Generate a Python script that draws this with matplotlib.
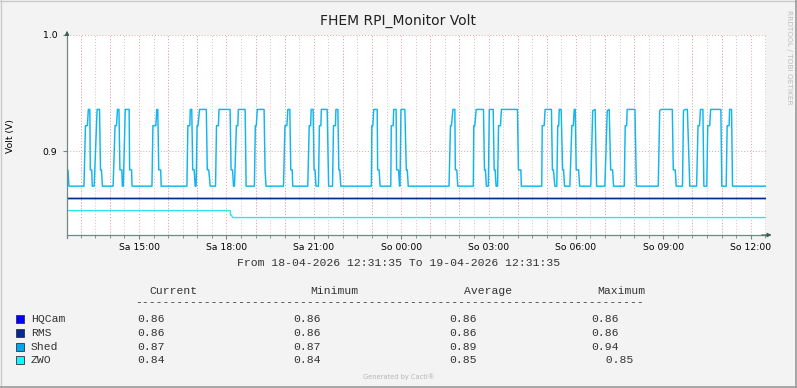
import matplotlib
matplotlib.use("Agg")
import numpy as np
import pandas as pd
import matplotlib.pyplot as plt
import matplotlib.dates as mdates
from matplotlib.ticker import FuncFormatter
from matplotlib.patches import Rectangle
from matplotlib.lines import Line2D

start = pd.Timestamp("2026-04-18 12:31:35")
end = pd.Timestamp("2026-04-19 12:31:35")

# Shed voltage, (minutes after start, volt)
shed = [
    (0, .884), (2, .884), (4, .870), (35, .870), (38, .922), (42, .922), (44, .936), (47, .936),
    (48, .884), (51, .884), (52, .870), (56, .870), (62, .936), (67, .936), (69, .884), (71, .884),
    (73, .870), (95, .870), (99, .922), (102, .922), (104, .936), (107, .936), (109, .884),
    (113, .884), (114, .870), (116, .870), (119, .922), (120, .936), (128, .936), (129, .884),
    (133, .884), (134, .870), (175, .870), (177, .922), (183, .922), (185, .936), (187, .936),
    (189, .884), (193, .884), (194, .870), (247, .870), (249, .922), (253, .922), (254, .936),
    (257, .936), (259, .884), (262, .884), (264, .870), (266, .870), (268, .922), (270, .922),
    (273, .936), (287, .936), (289, .884), (292, .884), (295, .870), (306, .870), (308, .922),
    (312, .922), (313, .936), (336, .936), (338, .884), (341, .884), (343, .870), (345, .870),
    (349, .922), (352, .922), (353, .936), (367, .936), (369, .870), (386, .870), (388, .922),
    (390, .922), (392, .936), (406, .936), (408, .884), (410, .870), (446, .870), (449, .922),
    (453, .922), (455, .936), (459, .936), (461, .884), (464, .884), (465, .870), (496, .870),
    (499, .922), (502, .922), (503, .936), (507, .936), (509, .884), (511, .884), (513, .870),
    (518, .870), (520, .922), (523, .922), (524, .936), (536, .936), (539, .870), (547, .870),
    (549, .922), (553, .922), (554, .936), (558, .936), (560, .884), (562, .884), (564, .870),
    (627, .870), (628, .922), (630, .922), (632, .936), (639, .936), (640, .884), (643, .884),
    (645, .870), (667, .870), (668, .922), (672, .922), (673, .936), (678, .936), (679, .884),
    (683, .884), (685, .870), (686, .870), (688, .936), (696, .936), (699, .884), (701, .884),
    (703, .870), (787, .870), (790, .922), (792, .922), (795, .936), (799, .936), (800, .884),
    (803, .884), (805, .870), (837, .870), (838, .922), (840, .922), (843, .936), (858, .936),
    (860, .884), (862, .884), (864, .870), (868, .870), (870, .936), (878, .936), (880, .884),
    (882, .884), (884, .870), (887, .870), (889, .922), (893, .922), (895, .936), (928, .936),
    (930, .884), (935, .884), (936, .870), (978, .870), (979, .922), (983, .922), (985, .936),
    (998, .936), (1000, .884), (1002, .884), (1005, .870), (1009, .870), (1011, .922),
    (1013, .922), (1014, .936), (1018, .936), (1021, .884), (1023, .884), (1025, .870),
    (1036, .870), (1040, .922), (1043, .922), (1045, .936), (1047, .936), (1049, .884),
    (1054, .884), (1056, .870), (1079, .870), (1083, .935), (1088, .936), (1091, .870),
    (1108, .870), (1113, .935), (1117, .936), (1120, .884), (1124, .884), (1126, .870),
    (1148, .870), (1150, .922), (1153, .922), (1154, .936), (1170, .936), (1173, .870),
    (1218, .870), (1221, .935), (1224, .936), (1247, .936), (1249, .884), (1253, .884),
    (1255, .870), (1268, .870), (1270, .935), (1274, .936), (1278, .936), (1283, .870),
    (1297, .870), (1300, .922), (1303, .922), (1305, .936), (1310, .936), (1312, .870),
    (1318, .870), (1320, .922), (1324, .922), (1326, .936), (1347, .936), (1349, .870),
    (1358, .870), (1360, .922), (1364, .922), (1365, .936), (1369, .936), (1371, .870),
    (1440, .870),
]
hqcam_min = [0, 1440]
hqcam_volt = [0.86, 0.86]
rms_min = [0, 1440]
rms_volt = [0.86, 0.86]
zwo_min = [0, 336, 337, 339, 341, 1440]
zwo_volt = [0.849, 0.849, 0.845, 0.845, 0.843, 0.843]

names = ["HQCam", "RMS", "Shed", "ZWO"]
colors = ["#0000FF", "#002A97", "#00A6EE", "#00FFFF"]
line_colors = ["#0000FF", "#002A8F", "#11B5F0", "#30E5E8"]
current = ["0.86", "0.86", "0.87", "0.84"]
minimum = ["0.86", "0.86", "0.87", "0.84"]
average = ["0.86", "0.86", "0.89", "0.85"]
maximum = ["0.86", "0.86", "0.94", "  0.85"]

weekdays = ["Mo", "Di", "Mi", "Do", "Fr", "Sa", "So"]
W, H = 797, 388
axis_col = "#6E8A84"
mono = "Liberation Mono"
mono_size = 8.2


def to_time(minutes):
    return start + pd.to_timedelta(minutes, unit="min")


fig = plt.figure(figsize=(W / 100, H / 100), dpi=100, facecolor="#F3F3F3")
ax = fig.add_axes([67 / W, 1 - 235 / H, 699 / W, 200 / H])
ax.set_facecolor("white")

shed_min = [p[0] for p in shed]
shed_volt = [p[1] for p in shed]
ax.plot(to_time(hqcam_min), hqcam_volt, color=line_colors[0], lw=1.0)
ax.plot(to_time(rms_min), rms_volt, color=line_colors[1], lw=1.0)
ax.plot(to_time(shed_min), shed_volt, color=line_colors[2], lw=1.05)
ax.plot(to_time(zwo_min), zwo_volt, color=line_colors[3], lw=1.0)

ax.set_xlim(start, end)
ax.set_ylim(0.828, 1.0)
ax.set_yticks([0.9, 1.0])
ax.set_yticklabels(["0.9", "1.0"])

ax.xaxis.set_major_locator(mdates.HourLocator(byhour=range(0, 24, 3)))
ax.xaxis.set_minor_locator(mdates.MinuteLocator(byminute=[0, 30]))


def fmt(v, pos):
    d = mdates.num2date(v)
    return weekdays[d.weekday()] + d.strftime(" %H:%M")


ax.xaxis.set_major_formatter(FuncFormatter(fmt))

# grid: grey every half hour, red every hour and at y ticks
ax.grid(which="minor", axis="x", color="#C8C8C8", linestyle=(0, (1, 2)), lw=0.7)
for t in pd.date_range(start.ceil("h"), end, freq="h"):
    ax.axvline(t, color="#E8A2A2", linestyle=(0, (1, 2)), lw=0.7, zorder=0.9)
ax.grid(which="major", axis="y", color="#E8A2A2", linestyle=(0, (1, 2)), lw=0.7)
ax.set_axisbelow(True)

for s in ["top", "right"]:
    ax.spines[s].set_visible(False)
for s in ["left", "bottom"]:
    ax.spines[s].set_color(axis_col)
    ax.spines[s].set_linewidth(0.9)
ax.spines["left"].set_bounds(0.8255, 1.0)
ax.tick_params(axis="x", which="major", length=3, color=axis_col, labelsize=6.7, pad=2.5)
ax.tick_params(axis="x", which="minor", length=2, color=axis_col)
ax.tick_params(axis="y", length=3, color=axis_col, labelsize=6.7, pad=4)

ax.annotate("", xy=(1.012, 0), xytext=(0.99, 0), xycoords="axes fraction",
            arrowprops=dict(arrowstyle="-|>", color="#3F5F55", lw=0.8, mutation_scale=6))
ax.annotate("", xy=(0, 1.035), xytext=(0, 0.99), xycoords="axes fraction",
            arrowprops=dict(arrowstyle="-|>", color="#3F5F55", lw=0.8, mutation_scale=6))

fig.text(0.5, 1 - 21 / H, "FHEM RPI_Monitor Volt", ha="center", va="center", fontsize=10, color="#222222")
fig.text(10 / W, 1 - 136 / H, "Volt (V)", rotation=90, ha="center", va="center", fontsize=6.7)
fig.text(789 / W, 1 - 57 / H, "RRDTOOL / TOBI OETIKER", rotation=270, ha="center", va="center",
         fontsize=5.3, color="#BDBDBD")
fig.text(0.5, 1 - 263 / H, "From 18-04-2026 12:31:35 To 19-04-2026 12:31:35", ha="center", va="center",
         family=mono, fontsize=mono_size, color="#333333")

# legend table
headers = [("Current", 149), ("Minimum", 310), ("Average", 464), ("Maximum", 597)]
for txt, px in headers:
    fig.text(px / W, 1 - 291 / H, txt, ha="left", va="center", family=mono, fontsize=mono_size, color="#333333")
fig.text(135.5 / W, 1 - 302 / H, "-" * 74, ha="left", va="center", family=mono, fontsize=mono_size,
         color="#333333")

rows_y = [319, 332.5, 346.5, 360]
col_x = [137.5, 293, 449.5, 591.5]
for i, name in enumerate(names):
    yy = 1 - rows_y[i] / H
    fig.add_artist(Rectangle((15.5 / W, 1 - (rows_y[i] + 4) / H), 8 / W, 8 / H, transform=fig.transFigure,
                             facecolor=colors[i], edgecolor="#333333", lw=0.6))
    fig.text(31 / W, yy, name, ha="left", va="center", family=mono, fontsize=mono_size, color="#333333")
    for col, vals in zip(col_x, [current, minimum, average, maximum]):
        fig.text(col / W, yy, vals[i], ha="left", va="center", family=mono, fontsize=mono_size, color="#333333")

fig.text(0.5, 1 - 377 / H, "Generated by Cacti®", ha="center", va="center", fontsize=4.8, color="#B5B5B5")

# frame around the image
fig.add_artist(Line2D([0, 1], [1 - 0.5 / H, 1 - 0.5 / H], transform=fig.transFigure, color="#CBCBCB", lw=1))
fig.add_artist(Line2D([0.5 / W, 0.5 / W], [0, 1], transform=fig.transFigure, color="#CBCBCB", lw=1))
fig.add_artist(Line2D([0, 1], [0.8 / H, 0.8 / H], transform=fig.transFigure, color="#999999", lw=1.2))
fig.add_artist(Line2D([1 - 0.8 / W, 1 - 0.8 / W], [0, 1], transform=fig.transFigure, color="#999999", lw=1.2))

fig.savefig("out.png", dpi=100, facecolor=fig.get_facecolor())
